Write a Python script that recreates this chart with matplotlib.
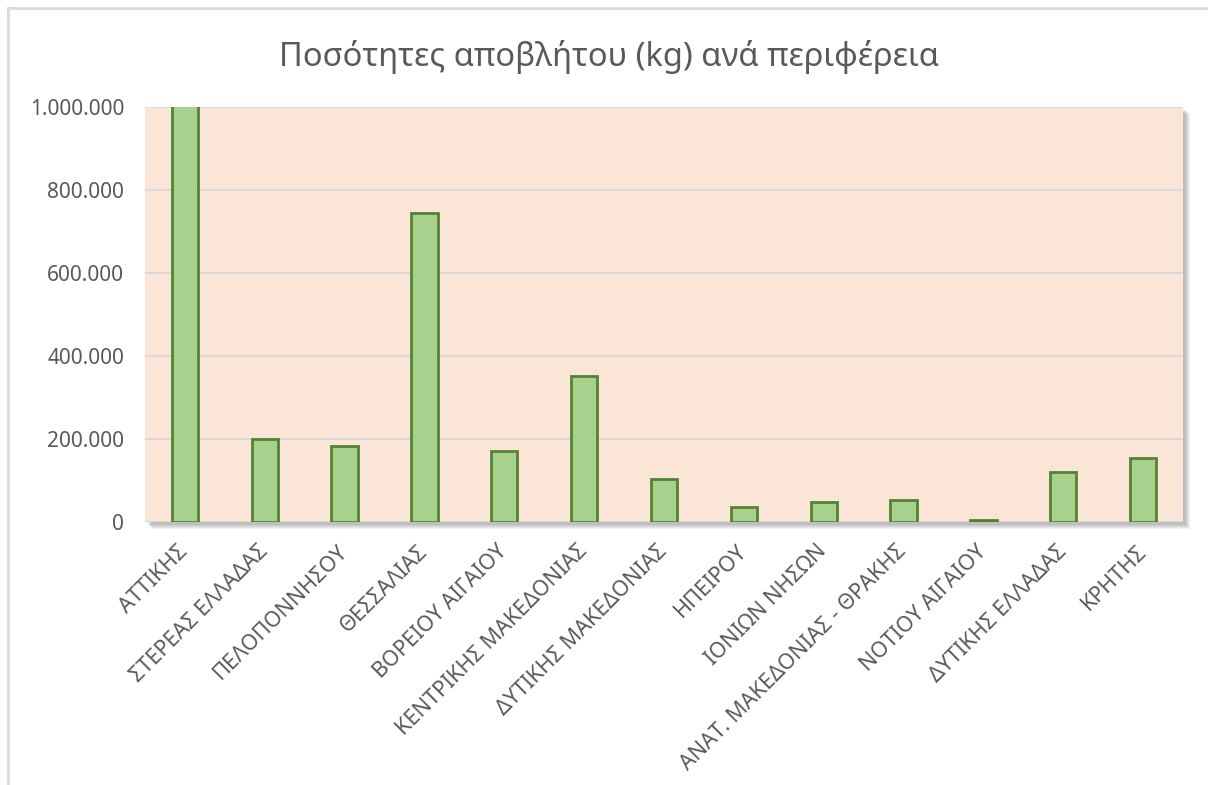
import matplotlib
matplotlib.use("Agg")
import matplotlib.pyplot as plt
from matplotlib.patches import Rectangle
from matplotlib.ticker import FuncFormatter

plt.rcParams['font.family'] = ['Noto Sans', 'DejaVu Sans']

regions = ['ΑΤΤΙΚΗΣ', 'ΣΤΕΡΕΑΣ ΕΛΛΑΔΑΣ', 'ΠΕΛΟΠΟΝΝΗΣΟΥ', 'ΘΕΣΣΑΛΙΑΣ',
           'ΒΟΡΕΙΟΥ ΑΙΓΑΙΟΥ', 'ΚΕΝΤΡΙΚΗΣ ΜΑΚΕΔΟΝΙΑΣ', 'ΔΥΤΙΚΗΣ ΜΑΚΕΔΟΝΙΑΣ',
           'ΗΠΕΙΡΟΥ', 'ΙΟΝΙΩΝ ΝΗΣΩΝ', 'ΑΝΑΤ. ΜΑΚΕΔΟΝΙΑΣ - ΘΡΑΚΗΣ',
           'ΝΟΤΙΟΥ ΑΙΓΑΙΟΥ', 'ΔΥΤΙΚΗΣ ΕΛΛΑΔΑΣ', 'ΚΡΗΤΗΣ']
waste_kg = [1120000, 200000, 183000, 744000, 171000, 352000, 104000,
            36000, 48000, 53000, 5000, 120000, 154000]
yticks = [0, 200000, 400000, 600000, 800000, 1000000]

text_col = '#595959'
W, H = 1208, 785
fig = plt.figure(figsize=(W / 100, H / 100), dpi=100)

# axes box in pixels
left, right, top, bottom = 145, 1183, 107, 522
ax_rect = [left / W, 1 - bottom / H, (right - left) / W, (bottom - top) / H]

# soft shadow behind the plot area
for i, a in enumerate([0.10, 0.10, 0.12, 0.14, 0.16]):
    off = 7 - i
    fig.patches.append(Rectangle(((left + off) / W, 1 - (bottom + off) / H),
                                 (right - left) / W, (bottom - top) / H,
                                 transform=fig.transFigure, facecolor='#7f7f7f',
                                 edgecolor='none', alpha=a, zorder=0))

ax = fig.add_axes(ax_rect, zorder=1)
ax.set_facecolor('#FBE5D6')
x = range(len(regions))
ax.bar(x, waste_kg, width=0.33, color='#A9D18E', edgecolor='#548235',
       linewidth=2, zorder=3)
ax.set_xlim(-0.5, len(regions) - 0.5)
ax.set_ylim(0, 1000000)
ax.set_yticks(yticks)
ax.yaxis.set_major_formatter(FuncFormatter(lambda v, p: f'{int(v):,}'.replace(',', '.')))
ax.grid(axis='y', color='#D9D9D9', linewidth=1.5, zorder=1)
for s in ax.spines.values():
    s.set_visible(False)
ax.tick_params(length=0, colors=text_col)
ax.tick_params(axis='y', pad=15, labelsize=15)
ax.tick_params(axis='x', pad=19)
ax.set_xticks(list(x))
ax.set_xticklabels(regions, rotation=45, ha='right', va='center',
                   rotation_mode='anchor', fontsize=15.5, color=text_col)

fig.text(609 / W, 1 - 57 / H, 'Ποσότητες αποβλήτου (kg) ανά περιφέρεια',
         ha='center', va='center', fontsize=23.5, color=text_col)

# outer chart border (left and top visible)
fig.add_artist(plt.Line2D([8 / W, 8 / W], [0, 1 - 8 / H], color='#D9D9D9',
                          linewidth=2, transform=fig.transFigure))
fig.add_artist(plt.Line2D([8 / W, 1], [1 - 8 / H, 1 - 8 / H], color='#D9D9D9',
                          linewidth=2, transform=fig.transFigure))

fig.savefig('out.png', dpi=100)
